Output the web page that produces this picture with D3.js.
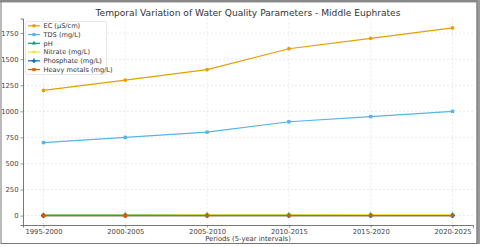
<!DOCTYPE html>
<html>
<head>
<meta charset="utf-8">
<script src="https://cdn.jsdelivr.net/npm/d3@7"></script>
<style>
  body { margin: 0; background: #fff; }
  svg { display: block; font-family: "DejaVu Sans", sans-serif; }
</style>
</head>
<body>
<div id="chart"></div>
<script>
const periods = ["1995-2000", "2000-2005", "2005-2010", "2010-2015", "2015-2020", "2020-2025"];
const ec = [1200, 1300, 1400, 1600, 1700, 1800];
const tds = [700, 750, 800, 900, 950, 1000];
const ph = [7.8, 7.9, 8.0, 8.1, 8.2, 8.3];
const nitrate = [5, 6, 7, 8, 9, 10];
const phosphate = [0.3, 0.35, 0.4, 0.45, 0.5, 0.55];
const heavyMetals = [0.02, 0.03, 0.04, 0.05, 0.06, 0.07];
const yTicks = [0, 250, 500, 750, 1000, 1250, 1500, 1750];

const series = [
  { name: "EC (\u00b5S/cm)", values: ec, color: "#E69F00", marker: "circle" },
  { name: "TDS (mg/L)", values: tds, color: "#56B4E9", marker: "square" },
  { name: "pH", values: ph, color: "#009E73", marker: "triangle" },
  { name: "Nitrate (mg/L)", values: nitrate, color: "#F0E442", marker: "tridown" },
  { name: "Phosphate (mg/L)", values: phosphate, color: "#0072B2", marker: "plus" },
  { name: "Heavy metals (mg/L)", values: heavyMetals, color: "#D55E00", marker: "cross" }
];

const width = 480, height = 247;
const plot = { left: 23, right: 473, top: 18.5, bottom: 225 };

const svg = d3.select("#chart").append("svg")
  .attr("width", width)
  .attr("height", height);

svg.append("rect").attr("width", width).attr("height", height).attr("fill", "#fff");

const x = d3.scaleLinear().domain([-0.25, periods.length - 1 + 0.25]).range([plot.left, plot.right]);
const y = d3.scaleLinear().domain([-90, 1890]).range([plot.bottom, plot.top]);

// grid
const grid = svg.append("g");
grid.selectAll(".gx").data(periods).join("line")
  .attr("x1", (d, i) => x(i)).attr("x2", (d, i) => x(i))
  .attr("y1", plot.top).attr("y2", plot.bottom)
  .attr("stroke", "#dcdcdc").attr("stroke-width", 0.6).attr("stroke-dasharray", "2,2");
grid.selectAll(".gy").data(yTicks).join("line")
  .attr("x1", plot.left).attr("x2", plot.right)
  .attr("y1", d => y(d)).attr("y2", d => y(d))
  .attr("stroke", "#dcdcdc").attr("stroke-width", 0.6).attr("stroke-dasharray", "2,2");

// axes
const xAxis = svg.append("g")
  .attr("transform", `translate(0,${plot.bottom})`)
  .call(d3.axisBottom(x).tickValues(d3.range(periods.length)).tickFormat(i => periods[i]).tickSize(2.5).tickPadding(1.5));
const yAxis = svg.append("g")
  .attr("transform", `translate(${plot.left},0)`)
  .call(d3.axisLeft(y).tickValues(yTicks).tickFormat(d3.format("d")).tickSize(2.5).tickPadding(2));
[xAxis, yAxis].forEach(a => {
  a.select(".domain").attr("stroke", "#555").attr("stroke-width", 0.8);
  a.selectAll(".tick line").attr("stroke", "#555").attr("stroke-width", 0.6);
  a.selectAll(".tick text").attr("fill", "#444").style("font-size", "6.8px").style("font-family", "DejaVu Sans");
});

// markers
function drawMarker(g, type, color, s) {
  if (type === "circle") {
    g.append("circle").attr("r", s * 0.55).attr("fill", color);
  } else if (type === "square") {
    g.append("rect").attr("x", -s / 2).attr("y", -s / 2).attr("width", s).attr("height", s).attr("fill", color);
  } else if (type === "triangle") {
    g.append("path").attr("d", d3.symbol(d3.symbolTriangle, s * s * 0.8)()).attr("fill", color);
  } else if (type === "tridown") {
    g.append("path").attr("d", d3.symbol(d3.symbolTriangle, s * s * 0.8)()).attr("transform", "rotate(180)").attr("fill", color);
  } else if (type === "plus") {
    g.append("path").attr("d", d3.symbol(d3.symbolCross, s * s * 1.1)()).attr("fill", color);
  } else {
    g.append("path").attr("d", d3.symbol(d3.symbolCross, s * s * 0.9)()).attr("transform", "rotate(45)").attr("fill", color);
  }
}

const line = d3.line().x((d, i) => x(i)).y(d => y(d));
series.forEach(s => {
  const g = svg.append("g");
  g.append("path").datum(s.values)
    .attr("d", line)
    .attr("fill", "none")
    .attr("stroke", s.color)
    .attr("stroke-width", 1.2);
  s.values.forEach((v, i) => {
    const m = g.append("g").attr("transform", `translate(${x(i)},${y(v)})`);
    drawMarker(m, s.marker, s.color, 3.4);
  });
});

// title and label
svg.append("text")
  .attr("x", 248)
  .attr("y", 15.5)
  .attr("text-anchor", "middle")
  .attr("fill", "#333")
  .style("font-size", "9.1px")
  .text("Temporal Variation of Water Quality Parameters - Middle Euphrates");

svg.append("text")
  .attr("x", (plot.left + plot.right) / 2)
  .attr("y", 241)
  .attr("text-anchor", "middle")
  .attr("fill", "#333")
  .style("font-size", "6.8px")
  .text("Periods (5-year intervals)");

// legend
const legend = svg.append("g").attr("transform", "translate(25.5,21.5)");
legend.append("rect")
  .attr("width", 81).attr("height", 53).attr("rx", 2)
  .attr("fill", "#fff").attr("fill-opacity", 0.85)
  .attr("stroke", "#ddd").attr("stroke-width", 0.7);
series.forEach((s, i) => {
  const row = legend.append("g").attr("transform", `translate(0,${4.3 + i * 8.75})`);
  row.append("line").attr("x1", 2.5).attr("x2", 14.5).attr("stroke", s.color).attr("stroke-width", 1.2);
  const m = row.append("g").attr("transform", "translate(8.5,0)");
  drawMarker(m, s.marker, s.color, 3.2);
  row.append("text").attr("x", 18).attr("y", 2.4)
    .attr("fill", "#333").style("font-size", "6.6px").text(s.name);
});

// outer frame
svg.append("rect").attr("x", 0).attr("y", 0).attr("width", width).attr("height", 2.5).attr("fill", "#9a9a9a");
svg.append("rect").attr("x", 476.5).attr("y", 0).attr("width", 3.5).attr("height", 244).attr("fill", "#9a9a9a");
svg.append("rect").attr("x", 1).attr("y", 1).attr("width", 476).attr("height", 242.5)
  .attr("fill", "none").attr("stroke", "#777").attr("stroke-width", 1);
</script>
</body>
</html>
